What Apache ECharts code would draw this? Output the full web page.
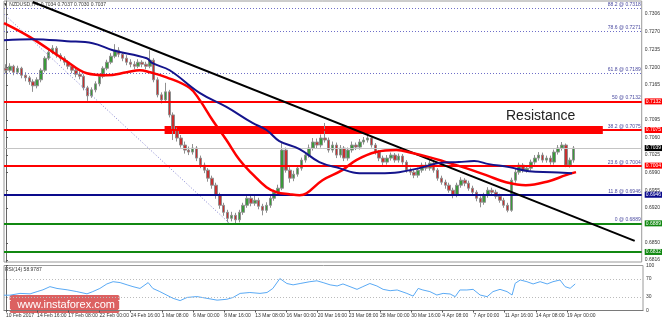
<!DOCTYPE html>
<html><head><meta charset="utf-8">
<script src="https://cdn.jsdelivr.net/npm/echarts@6/dist/echarts.min.js"></script>
<style>html,body{margin:0;padding:0;background:#fff}#c{width:663px;height:322px}</style>
</head><body><div id="c"></div>
<script>
// ---------- data ----------
const dateLabels = ["10 Feb 2017","14 Feb 16:00","17 Feb 08:00","22 Feb 00:00","24 Feb 16:00","1 Mar 08:00","6 Mar 00:00","8 Mar 16:00","13 Mar 08:00","16 Mar 00:00","20 Mar 16:00","23 Mar 08:00","28 Mar 00:00","30 Mar 16:00","4 Apr 08:00","7 Apr 00:00","11 Apr 16:00","14 Apr 08:00","19 Apr 00:00"];
const firstOpen = 0.7198;
const closes = [
0.7194,0.7202,0.7190,0.7198,0.7184,0.7179,0.7171,0.7163,0.7175,0.7194,
0.7218,0.7230,0.7238,0.7224,0.7218,0.7210,0.7202,0.7194,0.7186,0.7182,
0.7159,0.7143,0.7155,0.7167,0.7182,0.7198,0.7210,0.7222,0.7234,0.7226,
0.7218,0.7210,0.7206,0.7202,0.7210,0.7206,0.7202,0.7214,0.7175,0.7145,
0.7135,0.7151,0.7105,0.7075,0.7059,0.7045,0.7035,0.7031,0.7039,0.7019,
0.7005,0.6995,0.6979,0.6965,0.6945,0.6925,0.6911,0.6899,0.6905,0.6896,
0.6911,0.6925,0.6939,0.6929,0.6935,0.6923,0.6915,0.6925,0.6939,0.6951,
0.6959,0.7035,0.6995,0.6979,0.6987,0.6999,0.7015,0.7025,0.7039,0.7051,
0.7045,0.7059,0.7055,0.7035,0.7045,0.7025,0.7039,0.7019,0.7035,0.7045,
0.7041,0.7051,0.7055,0.7059,0.7045,0.7031,0.7019,0.7011,0.7019,0.7025,
0.7015,0.7023,0.7011,0.6995,0.6991,0.6985,0.6995,0.7005,0.6999,0.7009,
0.6995,0.6979,0.6971,0.6965,0.6955,0.6945,0.6965,0.6975,0.6969,0.6959,
0.6951,0.6939,0.6931,0.6945,0.6955,0.6951,0.6943,0.6935,0.6925,0.6915,
0.6975,0.6991,0.7005,0.6995,0.6999,0.7011,0.7019,0.7025,0.7015,0.7019,
0.7011,0.7031,0.7039,0.7045,0.7005,0.7015,0.7039];
const highs = [
0.7206,0.7208,0.7205,0.7203,0.7201,0.7190,0.7183,0.7176,0.7180,0.7198,
0.7222,0.7236,0.7244,0.7242,0.7228,0.7222,0.7214,0.7206,0.7198,0.7192,
0.7186,0.7163,0.7160,0.7172,0.7186,0.7202,0.7215,0.7228,0.7246,0.7240,
0.7230,0.7224,0.7216,0.7212,0.7216,0.7214,0.7211,0.7234,0.7218,0.7180,
0.7150,0.7169,0.7155,0.7110,0.7080,0.7065,0.7052,0.7042,0.7047,0.7043,
0.7024,0.7010,0.6999,0.6984,0.6970,0.6950,0.6930,0.6916,0.6912,0.6910,
0.6916,0.6930,0.6946,0.6944,0.6946,0.6940,0.6928,0.6931,0.6944,0.6956,
0.6966,0.7049,0.7040,0.7001,0.6994,0.7005,0.7020,0.7031,0.7046,0.7059,
0.7058,0.7066,0.7089,0.7060,0.7052,0.7050,0.7045,0.7043,0.7040,0.7052,
0.7050,0.7057,0.7061,0.7065,0.7062,0.7049,0.7035,0.7024,0.7025,0.7030,
0.7029,0.7028,0.7027,0.7015,0.7000,0.6996,0.7000,0.7010,0.7011,0.7015,
0.7012,0.6999,0.6984,0.6976,0.6970,0.6960,0.6970,0.6981,0.6979,0.6974,
0.6964,0.6955,0.6943,0.6950,0.6961,0.6960,0.6956,0.6948,0.6940,0.6930,
0.6980,0.6998,0.7010,0.7009,0.7005,0.7016,0.7025,0.7031,0.7030,0.7024,
0.7024,0.7036,0.7045,0.7051,0.7048,0.7020,0.7043];
const lows = [
0.7188,0.7190,0.7184,0.7186,0.7178,0.7172,0.7165,0.7151,0.7158,0.7170,
0.7190,0.7214,0.7226,0.7219,0.7212,0.7204,0.7196,0.7188,0.7180,0.7176,
0.7154,0.7133,0.7139,0.7150,0.7162,0.7178,0.7194,0.7206,0.7218,0.7220,
0.7212,0.7204,0.7200,0.7196,0.7198,0.7200,0.7196,0.7198,0.7170,0.7140,
0.7128,0.7130,0.7100,0.7055,0.7052,0.7040,0.7028,0.7025,0.7026,0.7013,
0.6999,0.6989,0.6972,0.6958,0.6938,0.6918,0.6904,0.6891,0.6893,0.6889,
0.6891,0.6906,0.6920,0.6923,0.6924,0.6917,0.6905,0.6910,0.6920,0.6934,
0.6946,0.6955,0.6990,0.6970,0.6973,0.6982,0.6994,0.7010,0.7020,0.7034,
0.7039,0.7040,0.7050,0.7030,0.7030,0.7019,0.7020,0.7013,0.7014,0.7030,
0.7035,0.7036,0.7046,0.7050,0.7040,0.7026,0.7013,0.7005,0.7006,0.7014,
0.7010,0.7010,0.7006,0.6990,0.6985,0.6979,0.6980,0.6990,0.6994,0.6994,
0.6990,0.6974,0.6966,0.6958,0.6950,0.6939,0.6941,0.6960,0.6963,0.6954,
0.6946,0.6933,0.6921,0.6926,0.6940,0.6946,0.6938,0.6930,0.6920,0.6911,
0.6912,0.6970,0.6986,0.6990,0.6990,0.6994,0.7006,0.7014,0.7010,0.7010,
0.7006,0.7006,0.7026,0.7034,0.7001,0.7000,0.7010];
// moving averages [bar index, price]
const redMA = [[-0.5,0.7288],[6.2,0.7260],[15.2,0.7214],[20.8,0.7188],[25.9,0.7184],[31.1,0.7190],[34.4,0.7194],[37.0,0.7190],[41.3,0.7180],[47.2,0.7159],[49.8,0.7135],[53.1,0.7095],[56.7,0.7055],[60.1,0.7015],[63.4,0.6987],[67.0,0.6961],[69.6,0.6951],[72.9,0.6947],[75.5,0.6945],[77.3,0.6949],[81.4,0.6975],[86.5,0.6995],[90.1,0.7015],[95.2,0.7031],[100.4,0.7035],[104.5,0.7029],[108.8,0.7021],[113.2,0.7011],[118.3,0.6999],[123.5,0.6985],[128.6,0.6971],[133.7,0.6965],[139.6,0.6973],[144.0,0.6985],[146.6,0.6991]];
const blueMA = [[-0.5,0.7254],[6.9,0.7256],[15.7,0.7252],[22.3,0.7248],[27.5,0.7234],[36.2,0.7218],[37.7,0.7208],[42.1,0.7194],[49.8,0.7149],[56.7,0.7121],[63.4,0.7089],[67.0,0.7075],[70.3,0.7053],[75.5,0.7037],[80.6,0.7011],[85.7,0.6999],[90.9,0.6989],[96.0,0.6989],[101.1,0.6991],[106.3,0.6999],[111.3,0.7009],[116.5,0.7011],[120.4,0.7013],[124.2,0.7007],[129.4,0.7001],[134.5,0.6993],[140.4,0.6991],[145.6,0.6989]];
const rsi = [[-0.5,34],[1.0,34],[3.6,38],[6.2,37],[8.0,42],[9.5,46],[11.3,53],[13.1,49],[15.7,46],[18.2,42],[20.8,37],[22.3,42],[24.1,49],[25.9,59],[27.5,64],[29.3,62],[31.1,57],[32.6,53],[34.4,49],[36.5,62],[37.7,49],[39.5,42],[41.3,34],[42.9,27],[44.7,22],[46.5,29],[49.0,31],[51.6,27],[54.2,23],[56.7,25],[58.3,29],[60.1,38],[62.6,40],[65.2,38],[67.0,40],[68.5,49],[70.3,71],[72.1,60],[73.7,57],[75.5,60],[78.0,64],[79.8,66],[81.4,62],[83.2,57],[85.0,54.5],[86.5,59],[88.3,53],[90.1,47],[91.6,53],[93.4,60],[95.2,54.5],[96.8,47],[98.6,44],[100.4,45.6],[102.9,38],[104.5,32],[105.8,49],[107.0,45.6],[108.8,42],[110.6,34.4],[112.2,38],[114.0,36.7],[115.3,30.7],[116.5,45.6],[118.3,45.6],[119.9,47],[121.7,34.4],[123.5,30.7],[125.0,42],[126.8,47],[128.6,42],[129.9,34.4],[130.7,60.4],[132.0,67.8],[133.7,64],[135.3,59],[137.1,64],[138.9,59],[140.4,64],[142.2,67.8],[143.5,53],[144.8,49.3],[146.1,59]];
const trendLine = [[6.9,0.7330],[161.7,0.6854]];
const fibTrend = [[-0.5,0.7306],[57.5,0.6889]];
const fibPct = ['88.2','78.6','61.8','50','38.2','23.6','11.8','0'];
const fibPrice = [0.7318,0.7271,0.7189,0.7132,0.7075,0.7004,0.6946,0.6889];
const extraSupport = 0.6832;
const lastPrice = 0.7039;
const resistanceBand = {from:40.8, to:153.5, low:0.7067, high:0.7083};
const priceTicks = [0.7306,0.7270,0.7235,0.7200,0.7165,0.7095,0.7060,0.7025,0.6990,0.6955,0.6920,0.6850,0.6816];
const rsiTicks = [0,30,70,100];
const rsiLevels = [30,70];

// ---------- styles ----------
const N_SLOTS = 164, BARS_PER_LABEL = 8;
const FONT = 'Liberation Sans, Arial, sans-serif';
const fibStyle = [
  {line:'#6e6ec8', type:[1,2], w:1, box:null},
  {line:'#6e6ec8', type:[1,2], w:1, box:null},
  {line:'#6e6ec8', type:[1,2], w:1, box:null},
  {line:'#ff0000', type:'solid', w:2, box:'#ff0000'},
  {line:'#ff0000', type:'solid', w:2, box:'#ff0000'},
  {line:'#ff0000', type:'solid', w:2, box:'#ff0000'},
  {line:'#0a0a8c', type:'solid', w:2, box:'#0a0a8c'},
  {line:'#118811', type:'solid', w:2, box:'#118811'}
];

const candleData = closes.map((c,i)=>[i===0?firstOpen:closes[i-1], c, lows[i], highs[i]]);
const dateTicks = dateLabels.map((_,j)=>j*BARS_PER_LABEL);

function boxLabel(v, bg){
  return {yAxis:v, lineStyle:{color:'rgba(0,0,0,0)', width:1},
    label:{show:true, position:'end', distance:3, formatter:v.toFixed(4), backgroundColor:bg, color:'#fff',
      fontSize:5, lineHeight:6, padding:[0,1,0,1], fontFamily:FONT}};
}
const levelLines = [];
fibPrice.forEach((p,i)=>{
  const s = fibStyle[i];
  levelLines.push({yAxis:p, lineStyle:{color:s.line, type:s.type, width:s.w},
    label:{show:true, position:'insideEndTop', distance:1, formatter:fibPct[i]+' @ '+p.toFixed(4), color:'#4a4aa0', fontSize:5, fontFamily:FONT}});
  if (s.box) levelLines.push(boxLabel(p, s.box));
});
levelLines.push({yAxis:extraSupport, lineStyle:{color:'#118811', type:'solid', width:2}, label:{show:false}});
levelLines.push(boxLabel(extraSupport,'#118811'));
levelLines.push({yAxis:lastPrice, lineStyle:{color:'#c4c4c4', type:'solid', width:1}, label:{show:false}});
levelLines.push(boxLabel(lastPrice,'#000000'));

const chart = echarts.init(document.getElementById('c'), null, {renderer:'canvas'});
chart.setOption({
  animation:false,
  backgroundColor:'#ffffff',
  textStyle:{fontFamily:FONT},
  grid:[
    {left:4, right:20, top:1, height:261, show:true, borderColor:'#9a9a9a', borderWidth:1},
    {left:4, right:20, top:265.5, height:45, show:true, borderColor:'#9a9a9a', borderWidth:1}
  ],
  xAxis:[
    {type:'category', gridIndex:0, data:Array.from({length:N_SLOTS},(_,i)=>i), show:false, boundaryGap:true},
    {type:'value', gridIndex:0, min:-0.5, max:N_SLOTS-0.5, show:false},
    {type:'value', gridIndex:1, min:-0.5, max:N_SLOTS-0.5, position:'bottom',
      axisLine:{show:true, lineStyle:{color:'#7a7a7a'}},
      axisTick:{show:true, customValues:dateTicks, length:2, lineStyle:{color:'#555'}},
      axisLabel:{customValues:dateTicks, formatter:v=>dateLabels[Math.round(v/BARS_PER_LABEL)], fontSize:5, color:'#333', align:'left', margin:3},
      splitLine:{show:false}}
  ],
  yAxis:[
    {type:'value', gridIndex:0, position:'right', min:0.6812, max:0.7332,
      axisLine:{show:true, lineStyle:{color:'#666'}},
      axisTick:{show:true, customValues:priceTicks, length:2, lineStyle:{color:'#555'}},
      axisLabel:{customValues:priceTicks, formatter:v=>v.toFixed(4), fontSize:5, color:'#333', margin:3},
      splitLine:{show:false}},
    {type:'value', gridIndex:1, position:'right', min:0, max:100,
      axisLine:{show:true, lineStyle:{color:'#666'}},
      axisTick:{show:true, customValues:rsiTicks, length:2, lineStyle:{color:'#555'}},
      axisLabel:{customValues:rsiTicks, fontSize:5, color:'#333', margin:3},
      splitLine:{show:false}}
  ],
  series:[
    {type:'candlestick', xAxisIndex:0, yAxisIndex:0, data:candleData, barWidth:3,
      itemStyle:{color:'#3a9a3a', color0:'#c83030', borderColor:'#8f8f8f', borderColor0:'#8f8f8f', borderWidth:1}, z:2},
    {type:'line', name:'fibTrend', xAxisIndex:1, yAxisIndex:0, data:fibTrend, symbol:'none',
      lineStyle:{color:'#8080d0', width:1, type:[1,2]}, z:3},
    {type:'line', name:'levels', xAxisIndex:1, yAxisIndex:0, data:trendLine, symbol:'none',
      lineStyle:{color:'#000', width:2}, z:5,
      markLine:{symbol:'none', silent:true, animation:false, precision:4, data:levelLines},
      markArea:{silent:true, itemStyle:{color:'#ff0000'},
        data:[[{xAxis:resistanceBand.from, yAxis:resistanceBand.high},{xAxis:resistanceBand.to, yAxis:resistanceBand.low}]]}},
    {type:'line', name:'MA red', xAxisIndex:1, yAxisIndex:0, data:redMA, symbol:'none', smooth:0.4,
      lineStyle:{color:'#ff0000', width:2.5}, z:6},
    {type:'line', name:'MA blue', xAxisIndex:1, yAxisIndex:0, data:blueMA, symbol:'none', smooth:0.4,
      lineStyle:{color:'#14148c', width:2}, z:6},
    {type:'line', name:'RSI', xAxisIndex:2, yAxisIndex:1, data:rsi, symbol:'none',
      lineStyle:{color:'#5aaaf5', width:1}, z:4,
      markLine:{symbol:'none', silent:true, animation:false, precision:2, label:{show:false},
        lineStyle:{color:'#bbbbbb', type:[1,2], width:1}, data:rsiLevels.map(v=>({yAxis:v}))}}
  ],
  graphic:[
    {type:'text', left:3, top:2, style:{text:'\u25BC NZDUSD,H4  0.7034 0.7037 0.7030 0.7037', fontSize:5, fill:'#333', fontFamily:FONT}},
    {type:'text', left:5, top:267, style:{text:'RSI(14) 58.9787', fontSize:5, fill:'#333', fontFamily:FONT}},
    {type:'text', left:506, top:109, style:{text:'Resistance', fontSize:14, fill:'#222', fontFamily:FONT}},
    {type:'group', left:8, top:295, children:[
      {type:'rect', shape:{x:0, y:0, width:110, height:18, r:2}, style:{fill:'rgba(214,69,69,0.85)'}},
      {type:'text', x:55, y:9.5, style:{text:'[  www.instaforex.com ]', fill:'#fff', fontSize:11, align:'center', verticalAlign:'middle', fontFamily:FONT}}
    ]}
  ]
});
</script></body></html>
